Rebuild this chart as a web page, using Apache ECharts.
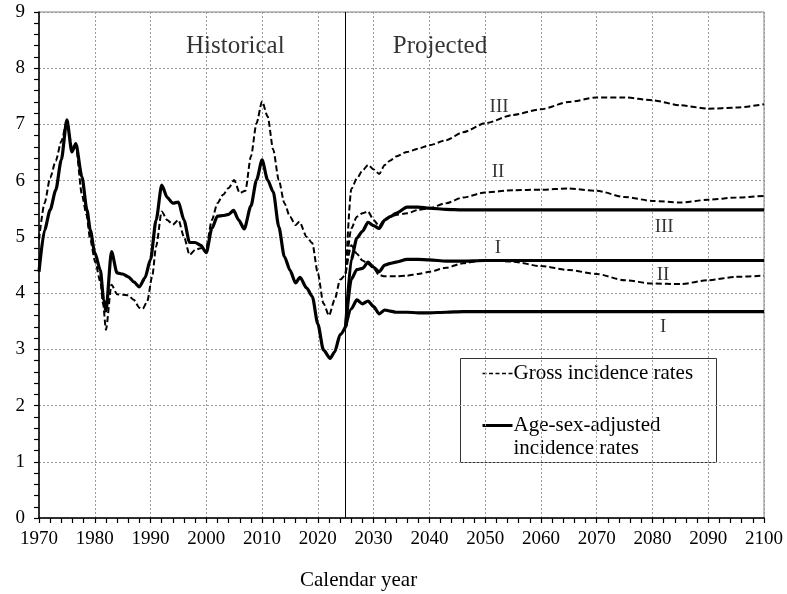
<!DOCTYPE html>
<html>
<head>
<meta charset="utf-8">
<script src="https://cdn.jsdelivr.net/npm/echarts@6/dist/echarts.min.js"></script>
<style>
  html, body { margin: 0; padding: 0; background: #fff; }
  #chart { width: 787px; height: 594px; }
</style>
</head>
<body>
<div id="chart"></div>
<script>
// ---- Data ----
const xTicks = [1970, 1980, 1990, 2000, 2010, 2020, 2030, 2040, 2050, 2060, 2070, 2080, 2090, 2100];
const yTicks = [0, 1, 2, 3, 4, 5, 6, 7, 8, 9];

// Historical gross incidence rates
const histGrossYears = [1970, 1971, 1972, 1973, 1974, 1975, 1976, 1976.6, 1977.7, 1978.5, 1979.2, 1980.1, 1981, 1981.5, 1982, 1983, 1984, 1985, 1986, 1987, 1988, 1988.6, 1989.4, 1990.3, 1991, 1992, 1993, 1994, 1995, 1996, 1997, 1998, 1999, 2000, 2001, 2002, 2003, 2004, 2005, 2006, 2007, 2008, 2009, 2010, 2011, 2012, 2013, 2014, 2015, 2016, 2016.7, 2018, 2019, 2020, 2021, 2022, 2023, 2024, 2025];
const histGross = [4.95, 5.6, 6.05, 6.35, 6.7, 7.05, 6.55, 6.62, 5.75, 5.4, 4.94, 4.55, 4.2, 3.8, 3.35, 4.15, 3.98, 3.97, 3.96, 3.88, 3.74, 3.72, 3.85, 4.3, 4.83, 5.45, 5.3, 5.22, 5.3, 5.0, 4.68, 4.77, 4.8, 4.82, 5.3, 5.6, 5.75, 5.87, 6.01, 5.78, 5.82, 6.43, 7.02, 7.41, 7.14, 6.55, 6.01, 5.6, 5.36, 5.21, 5.27, 5.0, 4.89, 4.35, 3.82, 3.6, 3.88, 4.24, 4.35];

// Historical age-sex-adjusted incidence rates
const histAdjYears = [1970, 1971, 1972, 1973, 1974, 1975, 1975.9, 1976.6, 1977.7, 1978.6, 1979.2, 1980, 1981, 1981.6, 1982, 1983, 1984, 1985, 1986, 1987, 1988, 1989, 1990, 1991, 1992, 1993, 1994, 1995, 1996, 1997, 1998, 1999, 2000, 2001, 2002, 2003, 2004, 2004.9, 2005.8, 2006.8, 2008, 2009, 2010, 2011, 2012, 2013, 2014, 2015, 2016, 2016.8, 2018, 2019, 2020, 2021, 2022.2, 2023, 2024, 2025];
const histAdj = [4.38, 5.12, 5.48, 5.83, 6.37, 7.08, 6.51, 6.66, 6.07, 5.48, 5.12, 4.72, 4.41, 3.88, 3.68, 4.74, 4.36, 4.34, 4.29, 4.2, 4.11, 4.27, 4.6, 5.3, 5.92, 5.7, 5.6, 5.62, 5.3, 4.9, 4.9, 4.85, 4.72, 5.15, 5.37, 5.38, 5.4, 5.47, 5.3, 5.14, 5.55, 6.01, 6.37, 6.01, 5.8, 5.18, 4.65, 4.41, 4.18, 4.28, 4.09, 3.94, 3.45, 2.99, 2.84, 2.95, 3.26, 3.41];

// Projections (scenarios)
const projYears = [2025, 2026, 2027, 2028, 2029, 2030, 2031, 2032, 2033, 2034, 2036, 2038, 2040, 2043, 2046, 2050, 2055, 2060, 2065, 2070, 2075, 2080, 2085, 2090, 2095, 2100];
const grossIII = [4.35, 5.85, 6.04, 6.18, 6.28, 6.2, 6.12, 6.28, 6.36, 6.43, 6.51, 6.57, 6.63, 6.72, 6.86, 7.02, 7.17, 7.27, 7.4, 7.48, 7.48, 7.43, 7.34, 7.28, 7.3, 7.36];
const grossII = [4.35, 5.15, 5.36, 5.42, 5.45, 5.3, 5.19, 5.32, 5.36, 5.39, 5.42, 5.48, 5.51, 5.6, 5.7, 5.79, 5.83, 5.84, 5.86, 5.82, 5.71, 5.64, 5.61, 5.66, 5.7, 5.73];
const grossI = [4.35, 4.85, 4.7, 4.58, 4.52, 4.44, 4.32, 4.3, 4.3, 4.3, 4.31, 4.34, 4.38, 4.45, 4.53, 4.59, 4.56, 4.48, 4.41, 4.34, 4.23, 4.17, 4.16, 4.23, 4.29, 4.31];
const adjIII = [3.41, 4.6, 4.98, 5.1, 5.26, 5.2, 5.15, 5.3, 5.36, 5.42, 5.53, 5.53, 5.51, 5.49, 5.48, 5.48, 5.48, 5.48, 5.48, 5.48, 5.48, 5.48, 5.48, 5.48, 5.48, 5.48];
const adjI = [3.41, 4.25, 4.42, 4.44, 4.55, 4.46, 4.38, 4.5, 4.53, 4.55, 4.6, 4.6, 4.59, 4.57, 4.57, 4.58, 4.58, 4.58, 4.58, 4.58, 4.58, 4.58, 4.58, 4.58, 4.58, 4.58];
const adjLow = [3.41, 3.72, 3.88, 3.81, 3.86, 3.76, 3.63, 3.7, 3.68, 3.66, 3.66, 3.65, 3.65, 3.66, 3.67, 3.67, 3.67, 3.67, 3.67, 3.67, 3.67, 3.67, 3.67, 3.67, 3.67, 3.67];

const dividerYear = 2025;

// Text annotations placed in data coordinates
const annotations = [
  { name: 'Historical', value: [2005.2, 8.38], size: 25 },
  { name: 'Projected', value: [2041.9, 8.38], size: 25 },
  { name: 'III', value: [2052.5, 7.31], size: 19 },
  { name: 'II', value: [2052.3, 6.16], size: 19 },
  { name: 'III', value: [2082.1, 5.18], size: 19 },
  { name: 'I', value: [2052.3, 4.80], size: 19 },
  { name: 'II', value: [2081.9, 4.33], size: 19 },
  { name: 'I', value: [2081.9, 3.39], size: 19 }
];

// ---- Chart ----
const FONT = '"Liberation Serif", "Times New Roman", Times, serif';
const zip = (xs, ys) => xs.map((x, i) => [x, ys[i]]);

const dashStyle = { color: '#000', width: 2, type: [6, 3] };
const solidStyle = { color: '#000', width: 3.2, type: 'solid' };

function lineSeries(name, data, style) {
  return {
    name, type: 'line', data, showSymbol: false, symbol: 'none',
    smooth: 0.25, smoothMonotone: 'x', lineStyle: style, silent: true, z: 3
  };
}

const chart = echarts.init(document.getElementById('chart'), null, { renderer: 'canvas' });

const option = {
  animation: false,
  backgroundColor: '#fff',
  textStyle: { fontFamily: FONT, color: '#000' },
  grid: {
    left: 39, right: 23, top: 12, bottom: 76, containLabel: false,
    show: true, borderColor: '#808080', borderWidth: 1, backgroundColor: 'transparent'
  },
  xAxis: {
    type: 'value', min: xTicks[0], max: xTicks[xTicks.length - 1], interval: 10,
    axisLine: { show: true, lineStyle: { color: '#000', width: 1.5 } },
    axisTick: { show: true, inside: false, length: 5, lineStyle: { color: '#000', width: 1.2 } },
    minorTick: { show: true, splitNumber: 5, length: 5, lineStyle: { color: '#000', width: 1.2 } },
    axisLabel: { color: '#000', fontFamily: FONT, fontSize: 19, margin: 12, formatter: v => String(v) },
    splitLine: { show: true, lineStyle: { color: '#9a9a9a', width: 1, type: [2, 2] } }
  },
  yAxis: {
    type: 'value', min: yTicks[0], max: yTicks[yTicks.length - 1], interval: 1,
    axisLine: { show: true, lineStyle: { color: '#000', width: 1.5 } },
    axisTick: { show: true, inside: false, length: 5, lineStyle: { color: '#000', width: 1.2 } },
    minorTick: { show: true, splitNumber: 5, length: 5, lineStyle: { color: '#000', width: 1.2 } },
    axisLabel: { color: '#000', fontFamily: FONT, fontSize: 19, margin: 14 },
    splitLine: { show: true, lineStyle: { color: '#9a9a9a', width: 1, type: [2, 2] } }
  },
  series: [
    Object.assign(lineSeries('Gross historical', zip(histGrossYears, histGross), dashStyle), {}),
    Object.assign(lineSeries('Adjusted historical', zip(histAdjYears, histAdj), solidStyle), {
      markLine: {
        silent: true, symbol: 'none', label: { show: false },
        lineStyle: { color: '#000', width: 1, type: 'solid' },
        data: [{ xAxis: dividerYear }]
      }
    }),
    lineSeries('Gross III', zip(projYears, grossIII), dashStyle),
    lineSeries('Gross II', zip(projYears, grossII), dashStyle),
    lineSeries('Gross I', zip(projYears, grossI), dashStyle),
    lineSeries('Adjusted III', zip(projYears, adjIII), solidStyle),
    lineSeries('Adjusted I', zip(projYears, adjI), solidStyle),
    lineSeries('Adjusted low', zip(projYears, adjLow), solidStyle),
    {
      name: 'annotations', type: 'scatter', symbolSize: 0, silent: true, z: 5,
      data: annotations.map(a => ({
        name: a.name, value: a.value,
        label: { show: true, position: 'inside', formatter: '{b}', color: '#000', fontFamily: FONT, fontSize: a.size }
      }))
    }
  ],
  graphic: [
    {
      type: 'group', left: 460, top: 358, z: 10,
      children: [
        { type: 'rect', shape: { x: 0, y: 0, width: 256, height: 104 },
          style: { fill: '#fff', stroke: '#333', lineWidth: 1 } },
        { type: 'line', shape: { x1: 22, y1: 15, x2: 52, y2: 15 },
          style: { stroke: '#000', lineWidth: 1.6, lineDash: [4, 2.5] } },
        { type: 'text', x: 53, y: 15,
          style: { text: 'Gross incidence rates', fill: '#000', font: '21px ' + FONT, textVerticalAlign: 'middle' } },
        { type: 'line', shape: { x1: 22, y1: 67, x2: 52, y2: 67 },
          style: { stroke: '#000', lineWidth: 3 } },
        { type: 'text', x: 53, y: 67,
          style: { text: 'Age-sex-adjusted', fill: '#000', font: '21px ' + FONT, textVerticalAlign: 'middle' } },
        { type: 'text', x: 53, y: 90,
          style: { text: 'incidence rates', fill: '#000', font: '21px ' + FONT, textVerticalAlign: 'middle' } }
      ]
    },
    {
      type: 'text', left: 300, top: 570, z: 10,
      style: { text: 'Calendar year', fill: '#000', font: '21px ' + FONT }
    }
  ]
};

chart.setOption(option);
</script>
</body>
</html>
